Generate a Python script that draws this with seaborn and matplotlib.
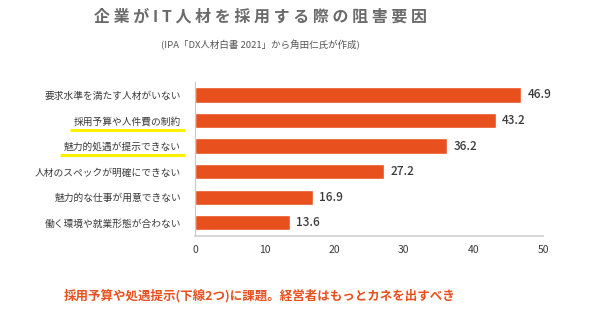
import matplotlib
matplotlib.use("Agg")
import matplotlib.pyplot as plt
from matplotlib.lines import Line2D
import seaborn as sns
import pandas as pd

# Survey results (%), IPA "DX白書 2021"
reasons = [
    "要求水準を満たす人材がいない",
    "採用予算や人件費の制約",
    "魅力的処遇が提示できない",
    "人材のスペックが明確にできない",
    "魅力的な仕事が用意できない",
    "働く環境や就業形態が合わない",
]
shares = [46.9, 43.2, 36.2, 27.2, 16.9, 13.6]
highlighted = ["採用予算や人件費の制約", "魅力的処遇が提示できない"]
x_ticks = [0, 10, 20, 30, 40, 50]

title = "企業がIT人材を採用する際の阻害要因"
subtitle = "(IPA「DX人材白書 2021」から角田仁氏が作成)"
note = "採用予算や処遇提示(下線2つ)に課題。経営者はもっとカネを出すべき"

sns.set_theme(style="white")
plt.rcParams["font.family"] = ["Noto Sans CJK JP", "DejaVu Sans"]

BAR = "#E8501E"
TEXT = "#3a3a3a"
CX = 260 / 591  # horizontal centre of the heading and footnote

df = pd.DataFrame({"reason": reasons, "share": shares})

fig = plt.figure(figsize=(5.91, 3.32), dpi=100)
ax = fig.add_axes([195 / 591, 1 - 235.5 / 332, 348 / 591, 153.3 / 332])

sns.barplot(data=df, x="share", y="reason", orient="h", color=BAR,
            width=0.6, saturation=1, ax=ax)

ax.set_xlim(0, 50)
ax.set_xticks(x_ticks)
ax.set_xlabel("")
ax.set_ylabel("")

for spine in ["top", "right"]:
    ax.spines[spine].set_visible(False)
ax.spines["bottom"].set_color("#d0d0d0")
ax.spines["bottom"].set_linewidth(1.2)
ax.spines["left"].set_color("#c8c8c8")
ax.spines["left"].set_linewidth(0.8)

ax.tick_params(axis="x", length=4, width=0.8, color="#d0d0d0",
               labelsize=7.5, labelcolor=TEXT, pad=3)
ax.tick_params(axis="y", length=0, labelsize=7, labelcolor=TEXT, pad=10)

for bar, v in zip(ax.patches, shares):
    ax.text(v + 0.9, bar.get_y() + bar.get_height() / 2, f"{v:.1f}",
            va="center", ha="left", fontsize=8.5, color=TEXT,
            fontweight="medium")

# Title with letter spacing
fig.text(CX, 1 - 17 / 332, " ".join(title), ha="center", va="center",
         fontsize=11.5, fontweight="bold", color="#6b6b6b")
fig.text(CX, 1 - 45 / 332, subtitle, ha="center", va="center",
         fontsize=6.8, color="#555555")
fig.text(CX, 1 - 296 / 332, note, ha="center", va="center",
         fontsize=9, fontweight="bold", color=BAR)

# Yellow underline beneath the emphasised reasons
fig.canvas.draw()
renderer = fig.canvas.get_renderer()
inv = fig.transFigure.inverted()
for lbl in ax.get_yticklabels():
    if lbl.get_text() in highlighted:
        bb = lbl.get_window_extent(renderer)
        (x0, y0), (x1, y1) = inv.transform([(bb.x0 - 4, bb.y0 - 3),
                                            (bb.x1 + 4, bb.y1)])
        fig.add_artist(Line2D([x0, x1], [y0, y0], transform=fig.transFigure,
                              color="#FFF000", linewidth=2.2,
                              solid_capstyle="butt"))

fig.savefig("out.png", dpi=100)
